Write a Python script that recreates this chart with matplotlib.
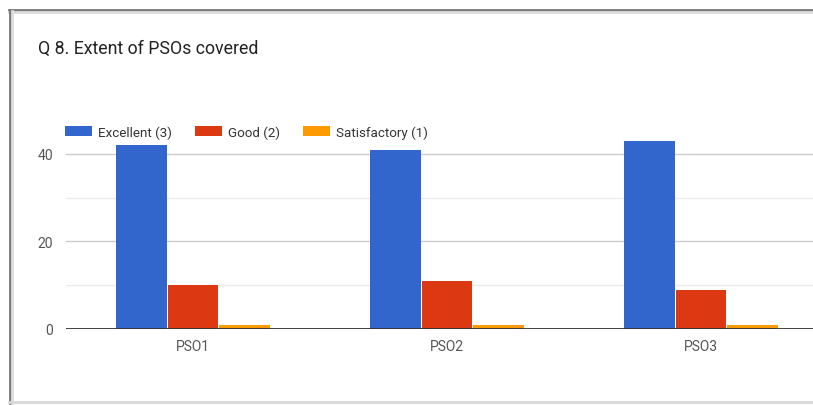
import matplotlib
matplotlib.use("Agg")
import matplotlib.pyplot as plt
from matplotlib.lines import Line2D
import numpy as np

categories = ["PSO1", "PSO2", "PSO3"]
series_names = ["Excellent (3)", "Good (2)", "Satisfactory (1)"]
excellent = [42, 41, 43]
good = [10, 11, 9]
satisfactory = [1, 1, 1]
colors = ["#3366CC", "#DC3912", "#FF9900"]
title = "Q 8. Extent of PSOs covered"

plt.rcParams['font.family'] = ['Roboto', 'DejaVu Sans']

W, H = 813, 406
fig = plt.figure(figsize=(W / 100, H / 100), dpi=100)
fig.patch.set_facecolor("white")

# axes in pixel coordinates
x0, x1 = 66, 828
y0, ytop = 330, 133
ax = fig.add_axes([x0 / W, (H - y0) / H, (x1 - x0) / W, (y0 - ytop) / H])
ax.set_xlim(-0.5, 2.5)
ax.set_ylim(0, 45)

x = np.arange(len(categories))
bw = 0.2
data = [excellent, good, satisfactory]
handles = []
for i, (vals, c, name) in enumerate(zip(data, colors, series_names)):
    b = ax.bar(x + (i - 1) * (bw + 0.004), vals, width=bw, color=c, label=name, zorder=3)
    handles.append(b)

for v in [10, 30]:
    ax.axhline(v, color="#ebebeb", lw=1, zorder=1)
for v in [20, 40]:
    ax.axhline(v, color="#cccccc", lw=1, zorder=1)
ax.axhline(0, color="#333333", lw=1.3, zorder=4)

ax.set_yticks([0, 20, 40])
ax.set_xticks(x)
ax.set_xticklabels(categories)
ax.tick_params(axis="both", length=0, labelsize=10, labelcolor="#555555")
ax.tick_params(axis="y", pad=9.5)
ax.tick_params(axis="x", pad=7)
for s in ax.spines.values():
    s.set_visible(False)

fig.text(38 / W, 1 - 49 / H, title, fontsize=12.8, color="#222222", va="center", ha="left")

leg = fig.legend(handles=handles, labels=series_names, loc="center left",
                 bbox_to_anchor=(65 / W, 1 - 133 / H), ncol=3, frameon=False,
                 fontsize=9.6, handlelength=2.0, handleheight=0.7,
                 handletextpad=0.45, columnspacing=1.75, borderaxespad=0,
                 labelcolor="#333333", borderpad=0)

# screenshot frame
fig.add_artist(Line2D([9 / W, 1], [1 - 11 / H, 1 - 11 / H], transform=fig.transFigure,
                      color="#777777", lw=2))
fig.add_artist(Line2D([9 / W, 1], [1 - 13 / H, 1 - 13 / H], transform=fig.transFigure,
                      color="#dddddd", lw=2))
fig.add_artist(Line2D([10 / W, 10 / W], [1 - 11 / H, 2 / H], transform=fig.transFigure,
                      color="#777777", lw=2))
fig.add_artist(Line2D([12 / W, 12 / W], [1 - 12 / H, 2 / H], transform=fig.transFigure,
                      color="#dddddd", lw=2))
fig.add_artist(Line2D([9 / W, 1], [3 / H, 3 / H], transform=fig.transFigure,
                      color="#d8d8d8", lw=2))

fig.savefig("out.png", dpi=100, facecolor="white")
